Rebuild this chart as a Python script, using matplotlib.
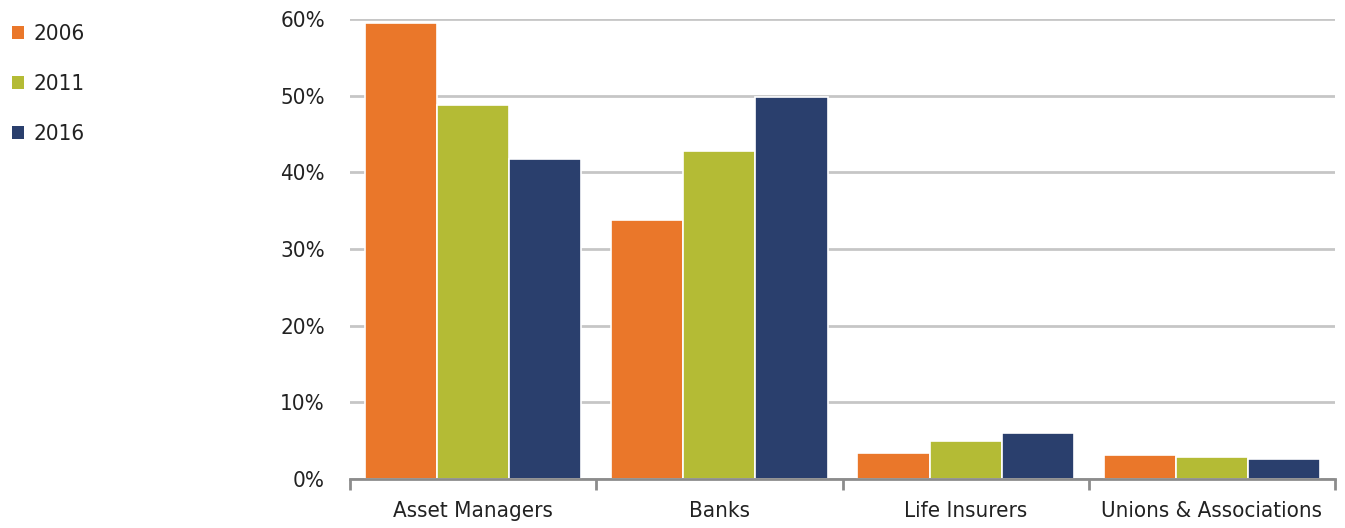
import matplotlib.pyplot as plt
import numpy as np
from matplotlib.patches import Patch

categories = ["Asset Managers", "Banks", "Life Insurers", "Unions & Associations"]
years = ["2006", "2011", "2016"]
share_2006 = [59.5, 33.8, 3.4, 3.1]
share_2011 = [48.8, 42.8, 5.0, 2.9]
share_2016 = [41.7, 49.8, 6.0, 2.6]
yticks = [0, 10, 20, 30, 40, 50, 60]

colors = ["#EA772A", "#B4BB35", "#2A3F6D"]
plt.rcParams["font.family"] = ["Liberation Sans Narrow", "DejaVu Sans"]
plt.rcParams["font.stretch"] = "condensed"
textColor = "#222222"

fig = plt.figure(figsize=(13.45, 5.28), dpi=100)
ax = fig.add_axes([350 / 1345, 1 - 479 / 528, 985 / 1345, 460 / 528])

x = np.arange(len(categories))
width = 0.293
for i, values in enumerate([share_2006, share_2011, share_2016]):
    ax.bar(x + (i - 1) * width, values, width=width, color=colors[i],
           edgecolor="white", linewidth=1.2, zorder=3)

ax.set_xlim(-0.5, len(categories) - 0.5)
ax.set_ylim(0, 60)
ax.set_yticks(yticks)
ax.set_yticklabels([f"{t}%" for t in yticks], fontsize=16, color=textColor)
ax.yaxis.grid(True, color="#C6C6C6", linewidth=2, zorder=0)
ax.tick_params(axis="y", length=0, pad=18)

# category labels centred, tick marks on group boundaries
ax.set_xticks(x)
ax.set_xticklabels(categories, fontsize=16, color=textColor)
ax.tick_params(axis="x", which="major", length=0, pad=16)
ax.set_xticks(np.arange(-0.5, len(categories)), minor=True)
ax.tick_params(axis="x", which="minor", length=8, width=2, color="#8C8C8C")

for side in ["top", "right", "left"]:
    ax.spines[side].set_visible(False)
ax.spines["bottom"].set_color("#8C8C8C")
ax.spines["bottom"].set_linewidth(2)
ax.spines["bottom"].set_zorder(4)

handles = [Patch(facecolor=c, edgecolor="none") for c in colors]
fig.legend(handles, years, loc="upper left", bbox_to_anchor=(0.009, 0.954),
           frameon=False, fontsize=16, handlelength=0.55, handleheight=0.55,
           handletextpad=0.4, labelspacing=1.35, borderpad=0, borderaxespad=0,
           labelcolor=textColor)

fig.savefig("out.png", dpi=100)
